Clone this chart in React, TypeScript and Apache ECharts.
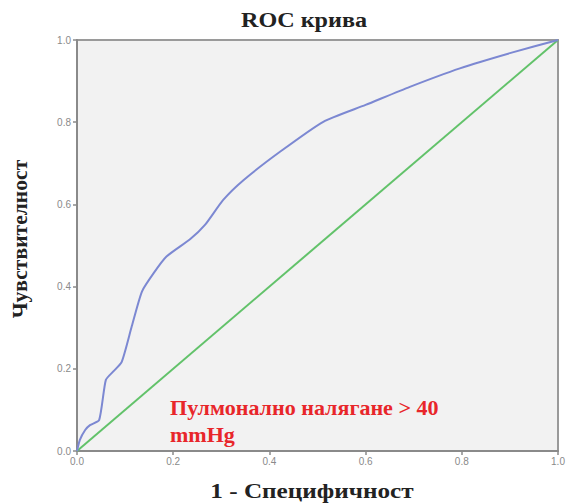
import React, { useEffect, useRef } from "react";
import * as echarts from "echarts";

// ROC curve: 1 - specificity (x) vs sensitivity (y)
const rocFpr = [
  0, 0.006, 0.017, 0.027, 0.046, 0.06, 0.075, 0.093, 0.114, 0.135, 0.159, 0.186,
  0.235, 0.266, 0.304, 0.346, 0.422, 0.512, 0.6, 0.692, 0.796, 0.9, 1,
];
const rocTpr = [
  0, 0.027, 0.051, 0.063, 0.075, 0.173, 0.193, 0.217, 0.304, 0.388, 0.432, 0.473,
  0.515, 0.55, 0.611, 0.659, 0.728, 0.801, 0.842, 0.886, 0.931, 0.968, 1,
];
// Reference line (chance)
const refX = [0, 1];
const refY = [0, 1];

const axisTicks = [0, 0.2, 0.4, 0.6, 0.8, 1];

const titleText = "ROC крива";
const xName = "1 - Специфичност";
const yName = "Чувствителност";
const noteLines = ["Пулмонално налягане > 40", "mmHg"];

const serif = "'Liberation Serif', 'DejaVu Serif', serif";
const sans = "'Liberation Sans', 'DejaVu Sans', sans-serif";

export default function App() {
  const ref = useRef<HTMLDivElement>(null);

  useEffect(() => {
    if (!ref.current) return;
    const chart = echarts.init(ref.current, undefined, { renderer: "svg" });
    const axisCommon = {
      type: "value" as const,
      min: axisTicks[0],
      max: axisTicks[axisTicks.length - 1],
      interval: 0.2,
      axisLine: { show: true, lineStyle: { color: "#8a8a8a", width: 2 } },
      axisTick: { show: true, length: 4, lineStyle: { color: "#8a8a8a", width: 1.5 } },
      axisLabel: {
        color: "#8a8a8a",
        fontSize: 10,
        fontFamily: sans,
        formatter: (v: number) => v.toFixed(1),
      },
      splitLine: { show: false },
    };
    const heading = (size: number) => `bold ${size}px ${serif}`;
    chart.setOption({
      animation: false,
      backgroundColor: "#ffffff",
      grid: {
        left: 77,
        right: 11,
        top: 40,
        bottom: 53,
        show: true,
        backgroundColor: "#f2f2f2",
        borderColor: "#9a9a9a",
        borderWidth: 2,
      },
      xAxis: { ...axisCommon, axisLabel: { ...axisCommon.axisLabel, margin: 5 } },
      yAxis: { ...axisCommon, axisLabel: { ...axisCommon.axisLabel, margin: 6 } },
      graphic: [
        {
          type: "text",
          x: 304,
          y: 20,
          scaleX: 1.15,
          style: {
            text: titleText,
            fill: "#222",
            font: heading(21),
            textAlign: "center",
            textVerticalAlign: "middle",
          },
        },
        {
          type: "text",
          x: 312,
          y: 491,
          scaleX: 1.2,
          style: {
            text: xName,
            fill: "#222",
            font: heading(21),
            textAlign: "center",
            textVerticalAlign: "middle",
          },
        },
        {
          type: "text",
          x: 20,
          y: 239,
          rotation: Math.PI / 2,
          scaleX: 1.08,
          style: {
            text: yName,
            fill: "#222",
            font: heading(20),
            textAlign: "center",
            textVerticalAlign: "middle",
          },
        },
        {
          type: "text",
          x: 170,
          y: 395,
          scaleX: 1.05,
          style: {
            text: noteLines.join("\n"),
            fill: "#e8262a",
            font: heading(21),
            lineHeight: 27,
            textVerticalAlign: "top",
          },
        },
      ],
      series: [
        {
          type: "line",
          data: refX.map((x, i) => [x, refY[i]]),
          showSymbol: false,
          lineStyle: { color: "#62c26a", width: 2 },
          z: 2,
        },
        {
          type: "line",
          data: rocFpr.map((x, i) => [x, rocTpr[i]]),
          showSymbol: false,
          smooth: 0.2,
          lineStyle: { color: "#7c88d2", width: 2 },
          z: 3,
        },
      ],
    });
    return () => chart.dispose();
  }, []);

  return (
    <div
      ref={ref}
      style={{ position: "absolute", left: 0, top: 0, width: 569, height: 504 }}
    />
  );
}
